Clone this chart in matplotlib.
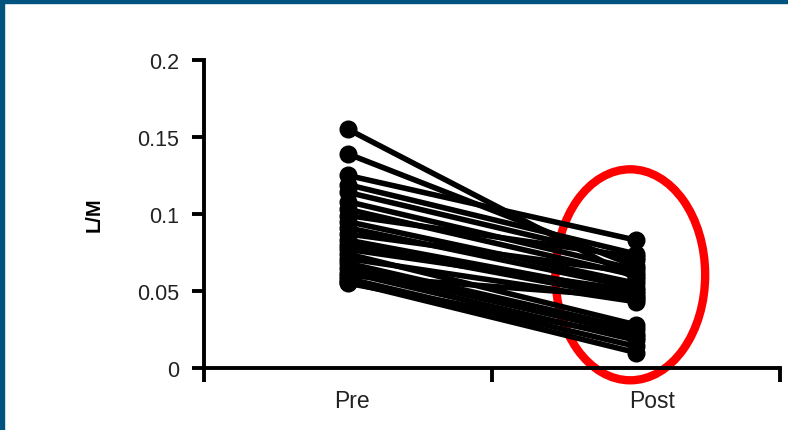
import matplotlib.pyplot as plt
from matplotlib.patches import Ellipse, Rectangle

# --- data: one value per subject, before and after ---
categories = ["Pre", "Post"]
pre = [0.155, 0.139, 0.125, 0.119, 0.114, 0.108, 0.103, 0.099, 0.095, 0.091, 0.087, 0.083,
       0.080, 0.077, 0.074, 0.071, 0.068, 0.065, 0.062, 0.060, 0.058, 0.056, 0.055]
post = [0.058, 0.066, 0.083, 0.074, 0.070, 0.064, 0.060, 0.072, 0.055, 0.052, 0.062, 0.048,
        0.045, 0.050, 0.028, 0.043, 0.025, 0.022, 0.018, 0.046, 0.014, 0.010, 0.020]
yticks = [0, 0.05, 0.1, 0.15, 0.2]
ytick_labels = ["0", "0.05", "0.1", "0.15", "0.2"]

plt.rcParams["font.family"] = ["Liberation Sans", "DejaVu Sans"]

fig = plt.figure(figsize=(7.88, 4.31), dpi=100)
ax = fig.add_axes([0.2589, 0.1439, 0.7310, 0.7146])

# paired lines, one per subject
for a, b in zip(pre, post):
    ax.plot([1, 2], [a, b], "-o", color="black", lw=4, ms=12, solid_capstyle="round")

ax.set_xlim(0.5, 2.5)
ax.set_ylim(0, 0.2)
ax.set_yticks(yticks)
ax.set_yticklabels(ytick_labels)
# boundary ticks on the x axis, group names sit in between
ax.set_xticks([0.5, 1.5, 2.5])
ax.set_xticklabels([])
ax.set_xticks([1.012, 2.056], minor=True)
ax.set_xticklabels(categories, minor=True)

ax.tick_params(axis="y", direction="out", length=9, width=2.8, labelsize=15.5,
               labelcolor="#222222", pad=9)
ax.tick_params(axis="x", which="major", direction="out", length=10, width=2.8)
ax.tick_params(axis="x", which="minor", length=0, labelsize=16.5, labelcolor="#222222", pad=15)

for side in ["top", "right"]:
    ax.spines[side].set_visible(False)
for side in ["left", "bottom"]:
    ax.spines[side].set_linewidth(2.8)

ax.set_ylabel("L/M", fontsize=14.5, fontweight="bold", labelpad=24)

# red highlight around the Post group
ell = Ellipse((1.98, 0.0605), 0.52, 0.137, fill=False, edgecolor="red", lw=6, clip_on=False)
ax.add_patch(ell)

# blue frame at top and left edge
fig.patches.append(Rectangle((0, 1 - 4 / 431), 1, 4 / 431, transform=fig.transFigure,
                             color="#00537f", zorder=10))
fig.patches.append(Rectangle((0, 0), 4 / 788, 1, transform=fig.transFigure,
                             color="#00537f", zorder=10))

fig.savefig("out.png", dpi=100)
